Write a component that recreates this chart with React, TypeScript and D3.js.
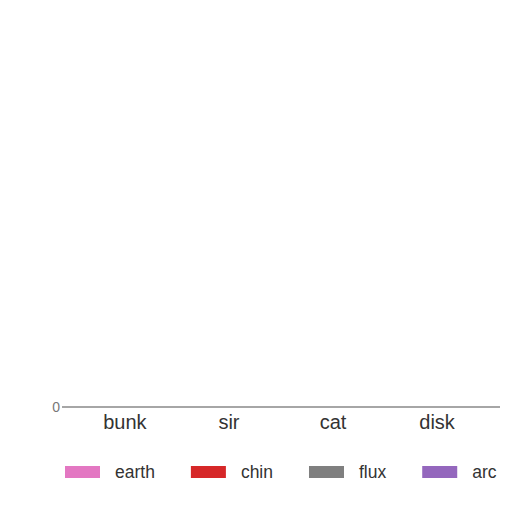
import * as React from "react";
import * as d3 from "d3";

const categories = ["bunk", "sir", "cat", "disk"];
const seriesNames = ["earth", "chin", "flux", "arc"];
const seriesColors = ["#e377c2", "#d62728", "#7f7f7f", "#9467bd"];
// every bar in the reference sits flat on the baseline
const earth = [0, 0, 0, 0];
const chin = [0, 0, 0, 0];
const flux = [0, 0, 0, 0];
const arc = [0, 0, 0, 0];
const yTicks = [0];

const W = 512;
const H = 512;
const margin = { top: 20, right: 12, bottom: 105, left: 62 };
const FONT = "'Liberation Sans', Arial, sans-serif";
const legendFont = 17.5;

function textWidth(s: string, size: number) {
  const ctx = document.createElement("canvas").getContext("2d");
  if (!ctx) return s.length * size * 0.5;
  ctx.font = `${size}px ${FONT}`;
  return ctx.measureText(s).width;
}

export default function App() {
  const values = [earth, chin, flux, arc];
  const x = d3
    .scaleBand<string>()
    .domain(categories)
    .range([margin.left, W - margin.right])
    .padding(0.21);
  const x1 = d3
    .scaleBand<string>()
    .domain(seriesNames)
    .range([0, x.bandwidth()])
    .padding(0.05);
  const maxV = d3.max(values.flat()) || 1;
  const y = d3
    .scaleLinear()
    .domain([0, maxV])
    .range([H - margin.bottom, margin.top]);
  const base = y(0);

  // legend flows left to right: swatch, gap, label, gap
  const legendPos: number[] = [];
  let cx = 65;
  seriesNames.forEach((s) => {
    legendPos.push(cx);
    cx += 35 + 15 + textWidth(s, legendFont) + 36;
  });

  return (
    <svg
      width={W}
      height={H}
      style={{ position: "absolute", left: 0, top: 0, background: "#fff" }}
      fontFamily={FONT}
    >
      {categories.map((c, i) => (
        <g key={c} transform={`translate(${x(c)},0)`}>
          {seriesNames.map((s, j) => {
            const v = values[j][i];
            return (
              <rect
                key={s}
                x={x1(s)}
                y={y(v)}
                width={x1.bandwidth()}
                height={base - y(v)}
                fill={seriesColors[j]}
              />
            );
          })}
        </g>
      ))}
      <line
        x1={margin.left}
        x2={W - margin.right}
        y1={base}
        y2={base}
        stroke="#888"
        strokeWidth={1.5}
      />
      {yTicks.map((t) => (
        <text
          key={t}
          x={margin.left - 2}
          y={y(t)}
          dy="0.35em"
          textAnchor="end"
          fontSize={14}
          fill="#777"
        >
          {t}
        </text>
      ))}
      {categories.map((c) => (
        <text
          key={c}
          x={(x(c) as number) + x.bandwidth() / 2}
          y={base + 22}
          textAnchor="middle"
          fontSize={20}
          fill="#333"
        >
          {c}
        </text>
      ))}
      {seriesNames.map((s, j) => (
        <g key={s} transform={`translate(${legendPos[j]},466)`}>
          <rect width={35} height={12} fill={seriesColors[j]} />
          <text x={50} y={6} dy="0.35em" fontSize={legendFont} fill="#333">
            {s}
          </text>
        </g>
      ))}
    </svg>
  );
}
